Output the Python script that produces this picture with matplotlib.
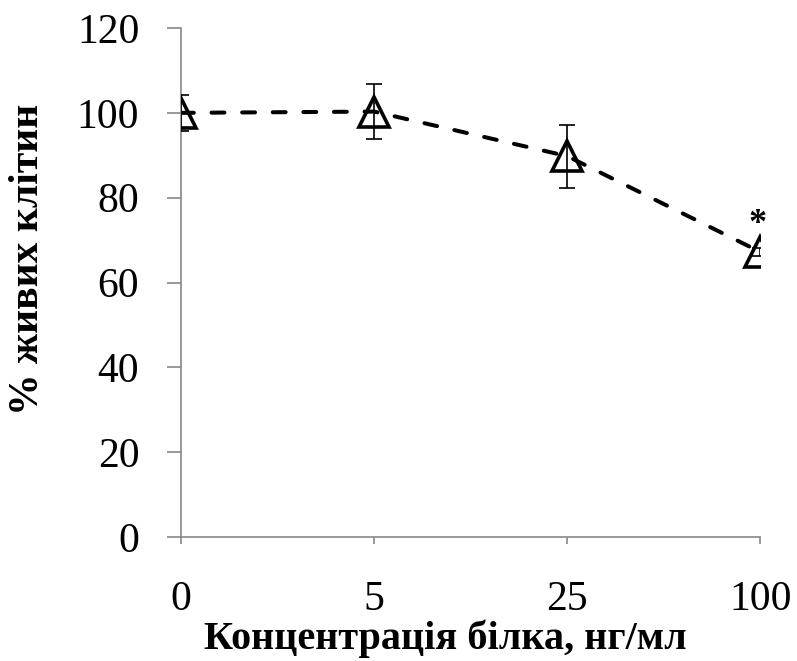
import numpy as np
import matplotlib.pyplot as plt

plt.rcParams['font.family'] = ['Liberation Serif', 'DejaVu Serif']

categories = ['0', '5', '25', '100']
viability = [100.0, 100.3, 89.8, 67.2]
errors = [4.3, 6.4, 7.4, 1.0]
significant = [False, False, False, True]


def main():
    fig = plt.figure(figsize=(7.97, 6.61), dpi=100)
    ax = fig.add_axes([0.227, 0.1876, 0.727, 0.770])

    x = np.arange(len(categories))
    ax.errorbar(x, viability, yerr=errors, fmt='none', ecolor='black',
                elinewidth=1.2, capsize=6, capthick=1.2, zorder=3)
    ax.plot(x, viability, linestyle=(0, (3.2, 4.4)), color='black',
            linewidth=2.9, dash_capstyle='round', zorder=2)
    ax.plot(x, viability, linestyle='none', marker='^', markersize=22,
            markerfacecolor='none', markeredgecolor='black',
            markeredgewidth=2.6, zorder=4)

    # зірочка для значущої різниці
    for xi, yi, s in zip(x, viability, significant):
        if s:
            ax.text(xi - 0.015, yi + 2.5, '*', ha='center', va='bottom',
                    fontsize=26, fontweight='bold')

    ax.set_xlim(0, len(categories) - 1)
    ax.set_ylim(0, 120)
    ax.set_yticks(np.arange(0, 121, 20))
    ax.set_xticks(x)
    ax.set_xticklabels(categories)

    for side in ['top', 'right']:
        ax.spines[side].set_visible(False)
    for side in ['left', 'bottom']:
        ax.spines[side].set_color('#888888')
        ax.spines[side].set_linewidth(1.2)
    ax.tick_params(axis='both', colors='#888888', labelcolor='black',
                   labelsize=30, width=1.2, direction='out')
    ax.tick_params(axis='x', length=5, pad=26)
    ax.tick_params(axis='y', length=10, pad=20)

    ax.set_xlabel('Концентрація білка, нг/мл', fontsize=29,
                  fontweight='bold', va='center')
    ax.set_ylabel('% живих клітин', fontsize=30, fontweight='bold',
                  va='center')
    ax.xaxis.set_label_coords(0.456, -0.199)
    ax.yaxis.set_label_coords(-0.264, 0.546)

    fig.savefig('out.png', dpi=100)


if __name__ == "__main__":
    main()
